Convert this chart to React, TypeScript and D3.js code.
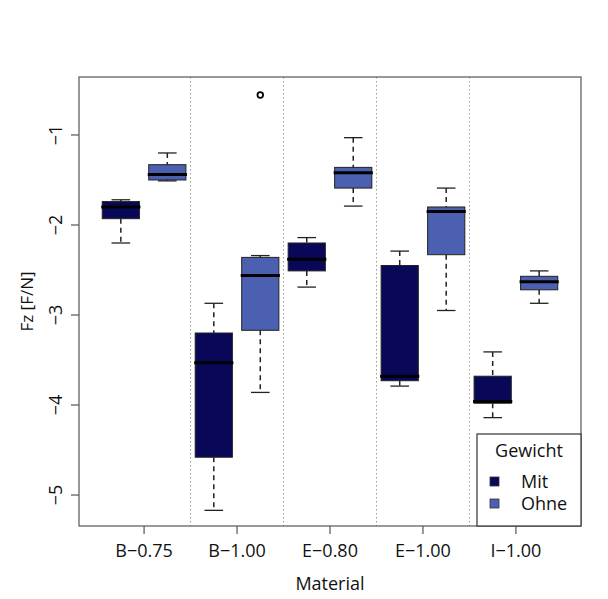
import React from 'react';
import * as d3 from 'd3';

// Materialien (x-Achse)
const materials = ['B\u22120.75', 'B\u22121.00', 'E\u22120.80', 'E\u22121.00', 'I\u22121.00'];
const groups = ['Mit', 'Ohne'];
const groupColors = ['#090858', '#4b60b0'];

// [unterer Whisker, Q1, Median, Q3, oberer Whisker]
const mitStats = [
  [-2.2, -1.93, -1.8, -1.74, -1.72],
  [-5.17, -4.58, -3.53, -3.2, -2.87],
  [-2.69, -2.51, -2.38, -2.2, -2.14],
  [-3.79, -3.73, -3.68, -2.45, -2.29],
  [-4.14, -3.98, -3.96, -3.68, -3.41],
];
const ohneStats = [
  [-1.51, -1.5, -1.44, -1.33, -1.2],
  [-3.86, -3.17, -2.56, -2.36, -2.34],
  [-1.79, -1.59, -1.42, -1.36, -1.03],
  [-2.95, -2.33, -1.85, -1.8, -1.59],
  [-2.87, -2.72, -2.63, -2.57, -2.51],
];
// Ausreißer: [Materialindex, Gruppe, Wert]
const outliers = [[1, 1, -0.556]];

const yTicks = [-5, -4, -3, -2, -1];

const W = 608;
const H = 599;
const font = '"Open Sans", "DejaVu Sans", sans-serif';

const App = () => {
  const x = d3.scaleLinear().domain([0.1, 10.9]).range([79, 581]);
  const y = d3.scaleLinear().domain([-0.356, -5.344]).range([77, 526]);
  const [x0, x1] = x.range();
  const [y0, y1] = y.range();
  const bw = x(0.8) - x(0);
  const cap = x(0.2) - x(0);

  const boxes: any[] = [];
  materials.forEach((m, i) => {
    [mitStats[i], ohneStats[i]].forEach((s, g) => {
      boxes.push({ pos: i * 2 + g + 1, s, g });
    });
  });

  return (
    <svg width={W} height={H} style={{ position: 'absolute', left: 0, top: 0, background: '#fff' }} fontFamily={font}>
      {/* Trennlinien */}
      {d3.range(1, materials.length).map(k => (
        <line key={k} x1={x(k * 2 + 0.5)} x2={x(k * 2 + 0.5)} y1={y0} y2={y1}
          stroke="#999" strokeWidth={1} strokeDasharray="1.5,2.5" />
      ))}

      {boxes.map((b, k) => {
        const cx = x(b.pos);
        const [lo, q1, med, q3, hi] = b.s;
        return (
          <g key={k}>
            <line x1={cx} x2={cx} y1={y(hi)} y2={y(q3)} stroke="#222" strokeWidth={1.5} strokeDasharray="5,4" />
            <line x1={cx} x2={cx} y1={y(q1)} y2={y(lo)} stroke="#222" strokeWidth={1.5} strokeDasharray="5,4" />
            <line x1={cx - cap} x2={cx + cap} y1={y(hi)} y2={y(hi)} stroke="#222" strokeWidth={1.3} />
            <line x1={cx - cap} x2={cx + cap} y1={y(lo)} y2={y(lo)} stroke="#222" strokeWidth={1.3} />
            <rect x={cx - bw / 2} y={y(q3)} width={bw} height={y(q1) - y(q3)}
              fill={groupColors[b.g]} stroke="#222" strokeWidth={1} />
            <line x1={cx - bw / 2 - 1} x2={cx + bw / 2 + 1} y1={y(med)} y2={y(med)} stroke="#000" strokeWidth={3} />
          </g>
        );
      })}

      {outliers.map(([i, g, v], k) => (
        <circle key={k} cx={x(i * 2 + g + 1)} cy={y(v)} r={2.8} fill="none" stroke="#000" strokeWidth={1.8} />
      ))}

      {/* Rahmen */}
      <rect x={x0} y={y0} width={x1 - x0} height={y1 - y0} fill="none" stroke="#555" strokeWidth={1.2} />

      {/* y-Achse */}
      {yTicks.map(t => (
        <g key={t}>
          <line x1={x0 - 8} x2={x0} y1={y(t)} y2={y(t)} stroke="#555" strokeWidth={1.2} />
          <text transform={`translate(62,${y(t)}) rotate(-90)`} textAnchor="middle" fontSize={18} fill="#111">
            {'\u2212' + Math.abs(t)}
          </text>
        </g>
      ))}
      <text transform={`translate(33,${(y0 + y1) / 2}) rotate(-90)`} textAnchor="middle" fontSize={17} fill="#111">
        Fz [F/N]
      </text>

      {/* x-Achse */}
      {materials.map((m, i) => {
        const tx = x(i * 2 + 1.5);
        return (
          <g key={m}>
            <line x1={tx} x2={tx} y1={y1} y2={y1 + 8} stroke="#555" strokeWidth={1.2} />
            <text x={tx} y={557} textAnchor="middle" fontSize={18} fill="#111">{m}</text>
          </g>
        );
      })}
      <text x={(x0 + x1) / 2} y={590} textAnchor="middle" fontSize={18} fill="#111">Material</text>

      {/* Legende */}
      <g>
        <rect x={477} y={434} width={x1 - 477} height={y1 - 434} fill="#fff" stroke="#333" strokeWidth={1.2} />
        <text x={529} y={457} textAnchor="middle" fontSize={18} fill="#111">Gewicht</text>
        {groups.map((g, k) => (
          <g key={g}>
            <rect x={490} y={477 + k * 22} width={9} height={9} fill={groupColors[k]} stroke="#333" strokeWidth={0.8} />
            <text x={521} y={488 + k * 22} fontSize={18} fill="#111">{g}</text>
          </g>
        ))}
      </g>
    </svg>
  );
};

export default App;
